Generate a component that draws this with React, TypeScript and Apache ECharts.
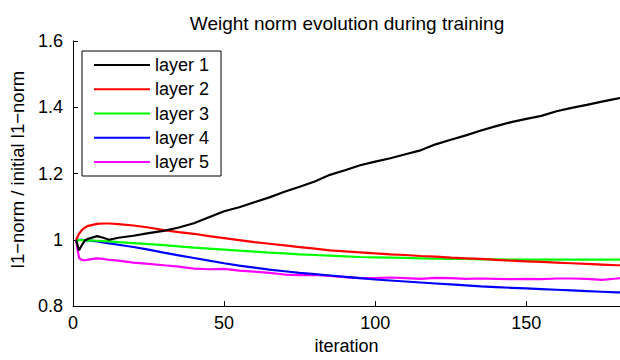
import React, { useEffect, useRef } from "react";
import * as echarts from "echarts";

const iterations = [1, 2, 3, 4, 5, 8, 10, 12, 15, 20, 25, 30, 35, 40, 45, 50, 55, 60, 65, 70, 75, 80, 85, 90, 95, 100, 105, 110, 115, 120, 125, 130, 135, 140, 145, 150, 155, 160, 165, 170, 175, 180, 181];

const layer1 = [1.0, 0.968, 0.985, 0.998, 1.003, 1.011, 1.006, 1.0, 1.006, 1.012, 1.02, 1.027, 1.037, 1.05, 1.068, 1.086, 1.098, 1.113, 1.128, 1.145, 1.16, 1.176, 1.196, 1.21, 1.225, 1.236, 1.246, 1.258, 1.27, 1.288, 1.302, 1.315, 1.33, 1.343, 1.355, 1.365, 1.374, 1.388, 1.398, 1.407, 1.417, 1.426, 1.428];
const layer2 = [1.0, 1.018, 1.03, 1.037, 1.042, 1.048, 1.049, 1.049, 1.047, 1.043, 1.037, 1.029, 1.023, 1.018, 1.011, 1.005, 0.999, 0.993, 0.988, 0.983, 0.978, 0.973, 0.968, 0.965, 0.962, 0.959, 0.956, 0.954, 0.951, 0.949, 0.946, 0.944, 0.942, 0.939, 0.937, 0.935, 0.933, 0.931, 0.929, 0.927, 0.925, 0.923, 0.923];
const layer3 = [1.0, 0.999, 0.999, 0.998, 0.998, 0.997, 0.996, 0.995, 0.993, 0.99, 0.987, 0.984, 0.98, 0.976, 0.973, 0.97, 0.967, 0.964, 0.961, 0.959, 0.956, 0.954, 0.952, 0.95, 0.948, 0.947, 0.946, 0.945, 0.944, 0.943, 0.942, 0.942, 0.941, 0.941, 0.94, 0.94, 0.94, 0.94, 0.94, 0.94, 0.94, 0.94, 0.94];
const layer4 = [1.0, 1.0, 1.0, 0.999, 0.998, 0.995, 0.992, 0.989, 0.985, 0.978, 0.97, 0.961, 0.953, 0.945, 0.937, 0.929, 0.922, 0.916, 0.91, 0.905, 0.9, 0.896, 0.892, 0.888, 0.884, 0.88, 0.877, 0.874, 0.871, 0.868, 0.865, 0.862, 0.859, 0.857, 0.855, 0.853, 0.851, 0.849, 0.847, 0.845, 0.843, 0.841, 0.841];
const layer5 = [1.0, 0.945, 0.939, 0.938, 0.94, 0.944, 0.942, 0.939, 0.937, 0.931, 0.927, 0.923, 0.919, 0.913, 0.911, 0.912, 0.907, 0.904, 0.9, 0.895, 0.893, 0.894, 0.891, 0.887, 0.884, 0.884, 0.886, 0.884, 0.882, 0.885, 0.884, 0.882, 0.883, 0.882, 0.881, 0.882, 0.881, 0.883, 0.883, 0.882, 0.879, 0.883, 0.884];

const seriesNames = ["layer 1", "layer 2", "layer 3", "layer 4", "layer 5"];
const seriesColors = ["#000000", "#ff0000", "#00ff00", "#0000ff", "#ff00ff"];
const seriesValues = [layer1, layer2, layer3, layer4, layer5];
const xTicks = [0, 50, 100, 150];

const FONT = "'Liberation Sans', Arial, Helvetica, sans-serif";

export default function App() {
  const ref = useRef<HTMLDivElement>(null);
  useEffect(() => {
    if (!ref.current) return;
    const chart = echarts.init(ref.current, undefined, { renderer: "svg" });
    chart.setOption({
      animation: false,
      backgroundColor: "#ffffff",
      textStyle: { fontFamily: FONT },
      title: {
        text: "Weight norm evolution during training",
        left: 342,
        top: 9,
        textAlign: "center",
        textStyle: { fontFamily: FONT, fontSize: 19, fontWeight: "normal", color: "#000" },
      },
      legend: {
        orient: "vertical",
        left: 82,
        top: 51,
        padding: [5, 12, 5, 12],
        itemGap: 6.25,
        itemWidth: 56,
        itemHeight: 2,
        icon: "rect",
        borderColor: "#000",
        borderWidth: 1,
        backgroundColor: "#fff",
        textStyle: { fontFamily: FONT, fontSize: 18, color: "#000" },
        data: seriesNames.map((n) => ({ name: n })),
      },
      grid: { left: 73, right: 0, top: 41, bottom: 53, containLabel: false },
      xAxis: {
        type: "value",
        min: 0,
        max: 181,
        interval: 50,
        name: "iteration",
        nameLocation: "middle",
        nameGap: 31,
        nameTextStyle: { fontFamily: FONT, fontSize: 18, color: "#000" },
        axisLine: { show: true, lineStyle: { color: "#000", width: 1 } },
        axisTick: { show: true, inside: true, length: 5, lineStyle: { color: "#000" }, customValues: xTicks },
        axisLabel: { fontFamily: FONT, fontSize: 18, color: "#000", margin: 8, customValues: xTicks },
        splitLine: { show: false },
      },
      yAxis: {
        type: "value",
        min: 0.8,
        max: 1.6,
        interval: 0.2,
        name: "l1\u2212norm / initial l1\u2212norm",
        nameLocation: "middle",
        nameGap: 38,
        nameRotate: 90,
        nameTextStyle: { fontFamily: FONT, fontSize: 18.5, color: "#000", padding: [0, 0, 0, 8] },
        axisLine: { show: true, lineStyle: { color: "#000", width: 1 } },
        axisTick: { show: true, inside: true, length: 5, lineStyle: { color: "#000" } },
        axisLabel: { fontFamily: FONT, fontSize: 18, color: "#000", margin: 10 },
        splitLine: { show: false },
      },
      series: seriesNames.map((name, i) => ({
        name,
        type: "line",
        data: iterations.map((x, j) => [x, seriesValues[i][j]]),
        showSymbol: false,
        symbol: "none",
        color: seriesColors[i],
        lineStyle: { color: seriesColors[i], width: 2.2 },
        z: 5 - i,
      })),
    });
    return () => chart.dispose();
  }, []);
  return <div ref={ref} style={{ position: "fixed", left: 0, top: 0, width: 620, height: 360 }} />;
}
